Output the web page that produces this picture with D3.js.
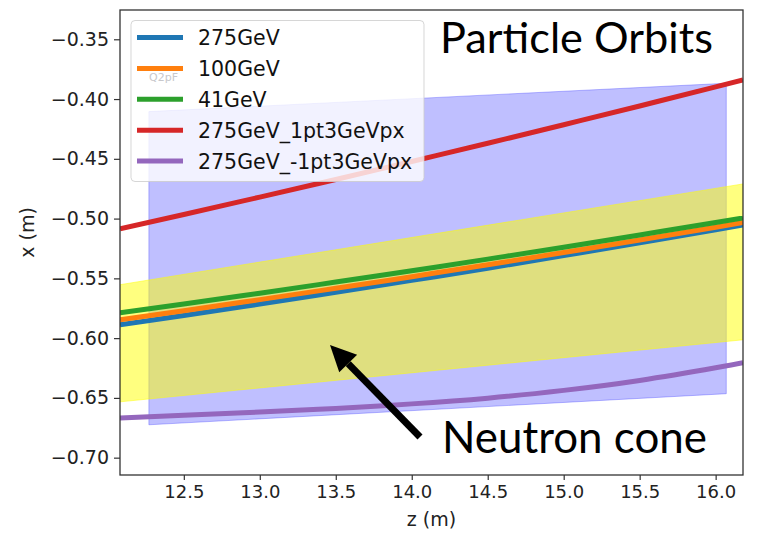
<!DOCTYPE html>
<html><head><meta charset="utf-8">
<script src="https://cdn.jsdelivr.net/npm/d3@7"></script>
<style>body{margin:0;background:#fff} svg{display:block}</style>
</head><body>
<svg id="c" width="763" height="534"></svg>
<script>
// ---- data ----
const zGrid   = [12.08, 12.5, 13.0, 13.5, 14.0, 14.5, 15.0, 15.5, 16.0, 16.18];
const x275    = [-0.5888, -0.5810, -0.5715, -0.5617, -0.5517, -0.5415, -0.5310, -0.5203, -0.5093, -0.5053];
const x100    = [-0.5847, -0.5771, -0.5678, -0.5583, -0.5486, -0.5386, -0.5284, -0.5179, -0.5072, -0.5033];
const x41     = [-0.5788, -0.5714, -0.5624, -0.5531, -0.5436, -0.5339, -0.5239, -0.5137, -0.5032, -0.4994];
const x275p   = [-0.5086, -0.4966, -0.4820, -0.4673, -0.4522, -0.4370, -0.4215, -0.4058, -0.3898, -0.3840];
const x275m   = [-0.6669, -0.6646, -0.6618, -0.6588, -0.6550, -0.6502, -0.6437, -0.6354, -0.6248, -0.6206];
const seriesNames  = ["275GeV", "100GeV", "41GeV", "275GeV_1pt3GeVpx", "275GeV_-1pt3GeVpx"];
const seriesColors = ["#1f77b4", "#ff7f0e", "#2ca02c", "#d62728", "#9467bd"];
const seriesValues = [x275, x100, x41, x275p, x275m];

// acceptance regions (z, x corners)
const blueConeZ   = [12.27, 16.07, 16.07, 12.27];
const blueConeX   = [-0.4105, -0.3868, -0.6465, -0.6725];
const neutronConeZ = [12.08, 16.18, 16.18, 12.08];
const neutronConeX = [-0.5553, -0.4710, -0.6014, -0.6533];

const xTicks = [12.5, 13.0, 13.5, 14.0, 14.5, 15.0, 15.5, 16.0];
const yTicks = [-0.70, -0.65, -0.60, -0.55, -0.50, -0.45, -0.40, -0.35];
const xLabel = "z (m)";
const yLabel = "x (m)";
const titleText = "Particle Orbits";
const coneText = "Neutron cone";
const faintText = "Q2pF";

// ---- layout ----
const L = 120, R = 743, T = 10, B = 475;
const svg = d3.select("#c");
const FONT = "DejaVu Sans, sans-serif";

const xs = d3.scaleLinear().domain([12.08, 16.18]).range([L, R]);
const ys = d3.scaleLinear().domain([-0.7145, -0.3255]).range([B, T]);

svg.append("defs").append("clipPath").attr("id", "clip")
  .append("rect").attr("x", L).attr("y", T).attr("width", R - L).attr("height", B - T);

const plot = svg.append("g").attr("clip-path", "url(#clip)");

const poly = (zs, vs) => zs.map((z, i) => [xs(z), ys(vs[i])]);
const polyLine = d3.line();

// blue region
plot.append("path")
  .attr("d", polyLine(poly(blueConeZ, blueConeX)) + "Z")
  .attr("fill", "rgba(0,0,255,0.25)")
  .attr("stroke", "rgba(0,0,255,0.25)").attr("stroke-width", 1);
// yellow neutron cone
plot.append("path")
  .attr("d", polyLine(poly(neutronConeZ, neutronConeX)) + "Z")
  .attr("fill", "rgba(255,255,0,0.5)")
  .attr("stroke", "rgba(255,255,0,0.5)").attr("stroke-width", 1);

// orbits
const line = d3.line().x((d, i) => xs(zGrid[i])).y(d => ys(d)).curve(d3.curveNatural);
seriesValues.forEach((vals, k) => {
  plot.append("path").datum(vals)
    .attr("d", line)
    .attr("fill", "none")
    .attr("stroke", seriesColors[k])
    .attr("stroke-width", 5)
    .attr("stroke-linecap", "butt");
});

// axes
const xAxis = d3.axisBottom(xs).tickValues(xTicks).tickFormat(d3.format(".1f")).tickSize(5).tickPadding(5);
const yAxis = d3.axisLeft(ys).tickValues(yTicks).tickFormat(d3.format(".2f")).tickSize(6).tickPadding(5);
const gx = svg.append("g").attr("transform", `translate(0,${B})`).call(xAxis);
const gy = svg.append("g").attr("transform", `translate(${L},0)`).call(yAxis);
[gx, gy].forEach(g => {
  g.select(".domain").remove();
  g.selectAll("line").attr("stroke", "#333").attr("stroke-width", 1.2);
  g.selectAll("text").attr("font-family", FONT).attr("font-size", 19).attr("fill", "#222");
});
gx.selectAll("text").attr("font-size", 18);

// frame
svg.append("rect").attr("x", L).attr("y", T).attr("width", R - L).attr("height", B - T)
  .attr("fill", "none").attr("stroke", "#333").attr("stroke-width", 1.3);

// axis labels
svg.append("text").attr("x", (L + R) / 2).attr("y", 526).attr("text-anchor", "middle")
  .attr("font-family", FONT).attr("font-size", 19).attr("fill", "#222").text(xLabel);
svg.append("text").attr("transform", `translate(34,${(T + B) / 2 - 10}) rotate(-90)`).attr("text-anchor", "middle")
  .attr("font-family", FONT).attr("font-size", 19).attr("fill", "#222").text(yLabel);

// legend
const lg = svg.append("g");
lg.append("rect").attr("x", 131).attr("y", 20.5).attr("width", 293).attr("height", 161).attr("rx", 4)
  .attr("fill", "rgba(255,255,255,0.8)").attr("stroke", "rgba(204,204,204,0.8)").attr("stroke-width", 1);
seriesNames.forEach((name, k) => {
  const y = 37.5 + k * 30.9;
  lg.append("line").attr("x1", 137).attr("x2", 183).attr("y1", y).attr("y2", y)
    .attr("stroke", seriesColors[k]).attr("stroke-width", 5);
  lg.append("text").attr("x", 198).attr("y", y + 7.5)
    .attr("font-family", FONT).attr("font-size", 20.5).attr("fill", "#111").text(name);
});
svg.append("text").attr("x", 149).attr("y", 81).attr("font-family", FONT).attr("font-size", 11)
  .attr("fill", "#c8c8cc").text(faintText);

// annotations
const ANN = "Lato, 'Open Sans', sans-serif";
function fitText(txt, x, y, width) {
  const t = svg.append("text").attr("x", x).attr("y", y).attr("font-family", ANN)
    .attr("font-size", 40).attr("fill", "#000").text(txt);
  const w = t.node().getComputedTextLength();
  t.attr("font-size", 40 * width / w);
  return t;
}
fitText(titleText, 440, 53, 273);
fitText(coneText, 442, 453, 265);

// arrow
const tip = [330, 345], tail = [420, 437];
const ang = Math.atan2(tail[1] - tip[1], tail[0] - tip[0]);
const hl = 26, hw = 12.5;
const bx = tip[0] + hl * Math.cos(ang), by = tip[1] + hl * Math.sin(ang);
svg.append("line").attr("x1", tail[0]).attr("y1", tail[1]).attr("x2", bx).attr("y2", by)
  .attr("stroke", "#000").attr("stroke-width", 7);
svg.append("path").attr("d", `M${tip[0]},${tip[1]} L${bx - hw * Math.sin(ang)},${by + hw * Math.cos(ang)} L${bx + hw * Math.sin(ang)},${by - hw * Math.cos(ang)} Z`)
  .attr("fill", "#000");
</script>
</body></html>
